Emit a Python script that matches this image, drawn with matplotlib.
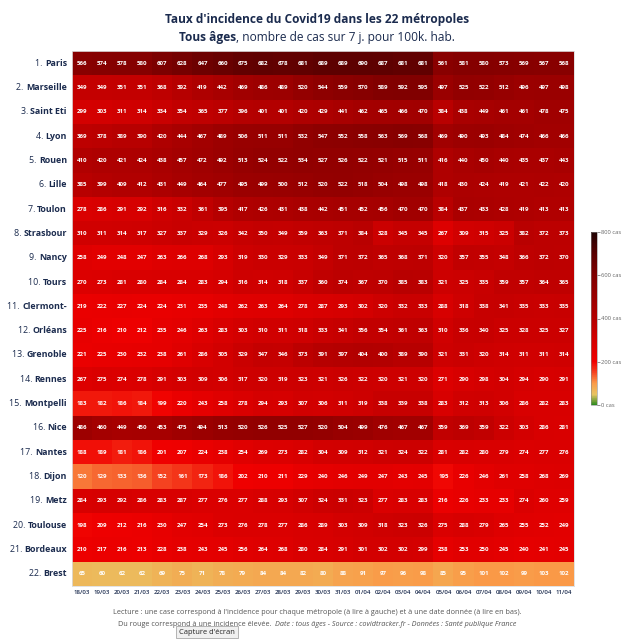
import numpy as np
import matplotlib
matplotlib.use("Agg")
import matplotlib.pyplot as plt
from matplotlib.colors import LinearSegmentedColormap

# Données : taux d'incidence (cas sur 7 j. pour 100k hab.)
villes = ["Paris", "Marseille", "Saint Eti", "Lyon", "Rouen", "Lille", "Toulon",
          "Strasbour", "Nancy", "Tours", "Clermont-", "Orléans", "Grenoble",
          "Rennes", "Montpelli", "Nice", "Nantes", "Dijon", "Metz", "Toulouse",
          "Bordeaux", "Brest"]

dates = ["18/03", "19/03", "20/03", "21/03", "22/03", "23/03", "24/03", "25/03",
         "26/03", "27/03", "28/03", "29/03", "30/03", "31/03", "01/04", "02/04",
         "03/04", "04/04", "05/04", "06/04", "07/04", "08/04", "09/04", "10/04",
         "11/04"]

paris = [566, 574, 578, 580, 607, 628, 647, 660, 675, 682, 678, 681, 689, 689, 690, 687, 681, 681, 561, 581, 580, 573, 569, 567, 568]
marseille = [349, 349, 351, 351, 368, 392, 419, 442, 469, 486, 489, 520, 544, 559, 570, 589, 592, 595, 497, 525, 522, 512, 496, 497, 498]
saint_eti = [299, 303, 311, 314, 334, 354, 365, 377, 396, 401, 401, 420, 429, 441, 462, 465, 466, 470, 384, 438, 449, 461, 461, 478, 475]
lyon = [369, 378, 389, 390, 420, 444, 467, 489, 506, 511, 511, 532, 547, 552, 558, 563, 569, 568, 469, 490, 493, 484, 474, 466, 466]
rouen = [410, 420, 421, 424, 438, 457, 472, 492, 513, 524, 522, 534, 527, 526, 522, 521, 515, 511, 416, 440, 450, 440, 435, 437, 443]
lille = [385, 399, 409, 412, 431, 449, 464, 477, 495, 499, 500, 512, 520, 522, 518, 504, 498, 498, 418, 430, 424, 419, 421, 422, 420]
toulon = [278, 286, 291, 292, 316, 332, 361, 395, 417, 426, 431, 438, 442, 451, 452, 456, 470, 470, 384, 437, 433, 428, 419, 413, 413]
strasbourg = [310, 311, 314, 317, 327, 337, 329, 326, 342, 350, 349, 359, 363, 371, 384, 328, 345, 345, 267, 309, 315, 325, 382, 372, 373]
nancy = [258, 249, 248, 247, 263, 266, 268, 293, 319, 330, 329, 333, 349, 371, 372, 365, 368, 371, 320, 357, 355, 348, 366, 372, 370]
tours = [270, 273, 281, 280, 284, 284, 283, 294, 316, 314, 318, 337, 360, 374, 367, 370, 385, 383, 321, 325, 335, 359, 357, 364, 365]
clermont = [219, 222, 227, 224, 224, 231, 235, 248, 262, 263, 264, 278, 287, 293, 302, 320, 332, 333, 288, 318, 338, 341, 335, 333, 335]
orleans = [225, 216, 210, 212, 235, 246, 263, 283, 303, 310, 311, 318, 333, 341, 356, 354, 361, 363, 310, 336, 340, 325, 328, 325, 327]
grenoble = [221, 225, 230, 232, 238, 261, 286, 305, 329, 347, 346, 373, 391, 397, 404, 400, 389, 390, 321, 331, 320, 314, 311, 311, 314]
rennes = [267, 275, 274, 278, 291, 303, 309, 306, 317, 320, 319, 323, 321, 326, 322, 320, 321, 320, 271, 290, 298, 304, 294, 290, 291]
montpellier = [183, 182, 186, 184, 199, 220, 243, 258, 278, 294, 293, 307, 306, 311, 319, 338, 339, 338, 283, 312, 313, 306, 286, 282, 283]
nice = [486, 460, 449, 450, 453, 475, 494, 513, 520, 526, 525, 527, 520, 504, 499, 476, 467, 467, 359, 369, 359, 322, 303, 286, 281]
nantes = [188, 189, 181, 186, 201, 207, 224, 238, 254, 269, 273, 282, 304, 309, 312, 321, 324, 322, 281, 282, 280, 279, 274, 277, 276]
dijon = [120, 129, 133, 136, 152, 161, 173, 186, 202, 210, 211, 229, 240, 246, 249, 247, 243, 245, 195, 226, 246, 261, 258, 268, 269]
metz = [284, 293, 292, 286, 283, 287, 277, 276, 277, 288, 293, 307, 324, 331, 323, 277, 283, 283, 216, 226, 233, 233, 274, 260, 259]
toulouse = [198, 209, 212, 216, 230, 247, 254, 273, 276, 278, 277, 286, 289, 303, 309, 318, 323, 326, 275, 288, 279, 265, 255, 252, 249]
bordeaux = [210, 217, 216, 213, 228, 238, 243, 245, 256, 264, 268, 280, 284, 291, 301, 302, 302, 299, 238, 253, 250, 245, 240, 241, 245]
brest = [65, 60, 62, 62, 69, 75, 71, 78, 79, 84, 84, 82, 80, 88, 91, 97, 96, 98, 85, 95, 101, 102, 99, 103, 102]

data = np.array([paris, marseille, saint_eti, lyon, rouen, lille, toulon, strasbourg,
                 nancy, tours, clermont, orleans, grenoble, rennes, montpellier, nice,
                 nantes, dijon, metz, toulouse, bordeaux, brest])

# Couleurs
navy = '#1b2b4e'
gris = '#666666'
cmap = LinearSegmentedColormap.from_list("covid", [
    (0.0, '#2e8b1e'), (0.06, '#e8c462'), (0.125, '#fb9a48'), (0.19, '#f5401f'),
    (0.25, '#f00000'), (0.375, '#d40000'), (0.5, '#b40000'), (0.625, '#9a0000'),
    (0.75, '#800000'), (0.875, '#5a0000'), (1.0, '#200404')])

W, H = 634, 639
fig = plt.figure(figsize=(W / 100, H / 100), dpi=100)
plt.rcParams['font.family'] = ['Open Sans', 'DejaVu Sans']

# Heatmap
ax = fig.add_axes([72 / W, 1 - 586 / H, 502 / W, 535 / H])
im = ax.imshow(data, cmap=cmap, vmin=0, vmax=800, aspect='auto', interpolation='nearest')
for i in range(data.shape[0]):
    for j in range(data.shape[1]):
        ax.text(j, i, str(data[i, j]), ha='center', va='center', color='white',
                fontsize=4.4, fontweight='bold')

ax.set_xticks(range(len(dates)))
ax.set_xticklabels(dates, fontsize=4.4, color=navy, fontweight='semibold')
ax.tick_params(axis='x', length=0, pad=3)
ax.set_yticks([])
for s in ax.spines.values():
    s.set_color('#dddddd')
    s.set_linewidth(0.6)

# Étiquettes des lignes : numéro normal + nom en gras
fig.canvas.draw()
renderer = fig.canvas.get_renderer()
xr = 67 / W
for i, nom in enumerate(villes):
    y = ax.transData.transform((0, i))[1] / (H)
    t = fig.text(xr, y, nom, ha='right', va='center', fontsize=6.4,
                 fontweight='bold', color=navy)
    w = t.get_window_extent(renderer).width / W
    fig.text(xr - w, y, f"{i + 1}. ", ha='right', va='center', fontsize=6.4,
             color=navy)

# Titre
fig.text(0.5, 1 - 20 / H, "Taux d'incidence du Covid19 dans les 22 métropoles",
         ha='center', va='center', fontsize=8.6, fontweight='bold', color=navy)
t1 = fig.text(0, 0, "Tous âges", fontsize=8.6, fontweight='bold')
t2 = fig.text(0, 0, ", nombre de cas sur 7 j. pour 100k. hab.", fontsize=8.6)
w1 = t1.get_window_extent(renderer).width / W
w2 = t2.get_window_extent(renderer).width / W
x0 = 0.5 - (w1 + w2) / 2
t1.set_position((x0, 1 - 37 / H)); t1.set_va('center'); t1.set_color(navy)
t2.set_position((x0 + w1, 1 - 37 / H)); t2.set_va('center'); t2.set_color(navy)

# Barre de couleur
cax = fig.add_axes([591 / W, 1 - 405 / H, 6 / W, 173 / H])
cb = fig.colorbar(im, cax=cax, ticks=[0, 200, 400, 600, 800])
cb.ax.set_yticklabels(["0 cas", "200 cas", "400 cas", "600 cas", "800 cas"],
                      fontsize=4.2, color=gris)
cb.ax.tick_params(length=2, width=0.5, color=gris, pad=1)
cb.outline.set_linewidth(0.4)
cb.outline.set_edgecolor('#888888')

# Pied de page
fig.text(0.5, 1 - 613 / H,
         "Lecture : une case correspond à l'incidence pour chaque métropole (à lire à gauche) "
         "et à une date donnée (à lire en bas).",
         ha='center', va='center', fontsize=5.2, color='#555555')
f1 = fig.text(0, 0, "Du rouge correspond à une incidence élevée.  ", fontsize=5.2, color='#555555')
f2 = fig.text(0, 0, "Date : tous âges - Source : covidtracker.fr - Données : Santé publique France",
              fontsize=5.2, color='#555555', style='italic')
w1 = f1.get_window_extent(renderer).width / W
w2 = f2.get_window_extent(renderer).width / W
x0 = 0.5 - (w1 + w2) / 2
f1.set_position((x0, 1 - 624 / H)); f1.set_va('center')
f2.set_position((x0 + w1, 1 - 624 / H)); f2.set_va('center')

fig.text(207 / W, 1 - 632 / H, "Capture d'écran", ha='center', va='center',
         fontsize=5.4, color='#222222',
         bbox=dict(boxstyle='square,pad=0.35', fc='#f0f0f0', ec='#999999', lw=0.5))

plt.savefig('out.png', dpi=100)
